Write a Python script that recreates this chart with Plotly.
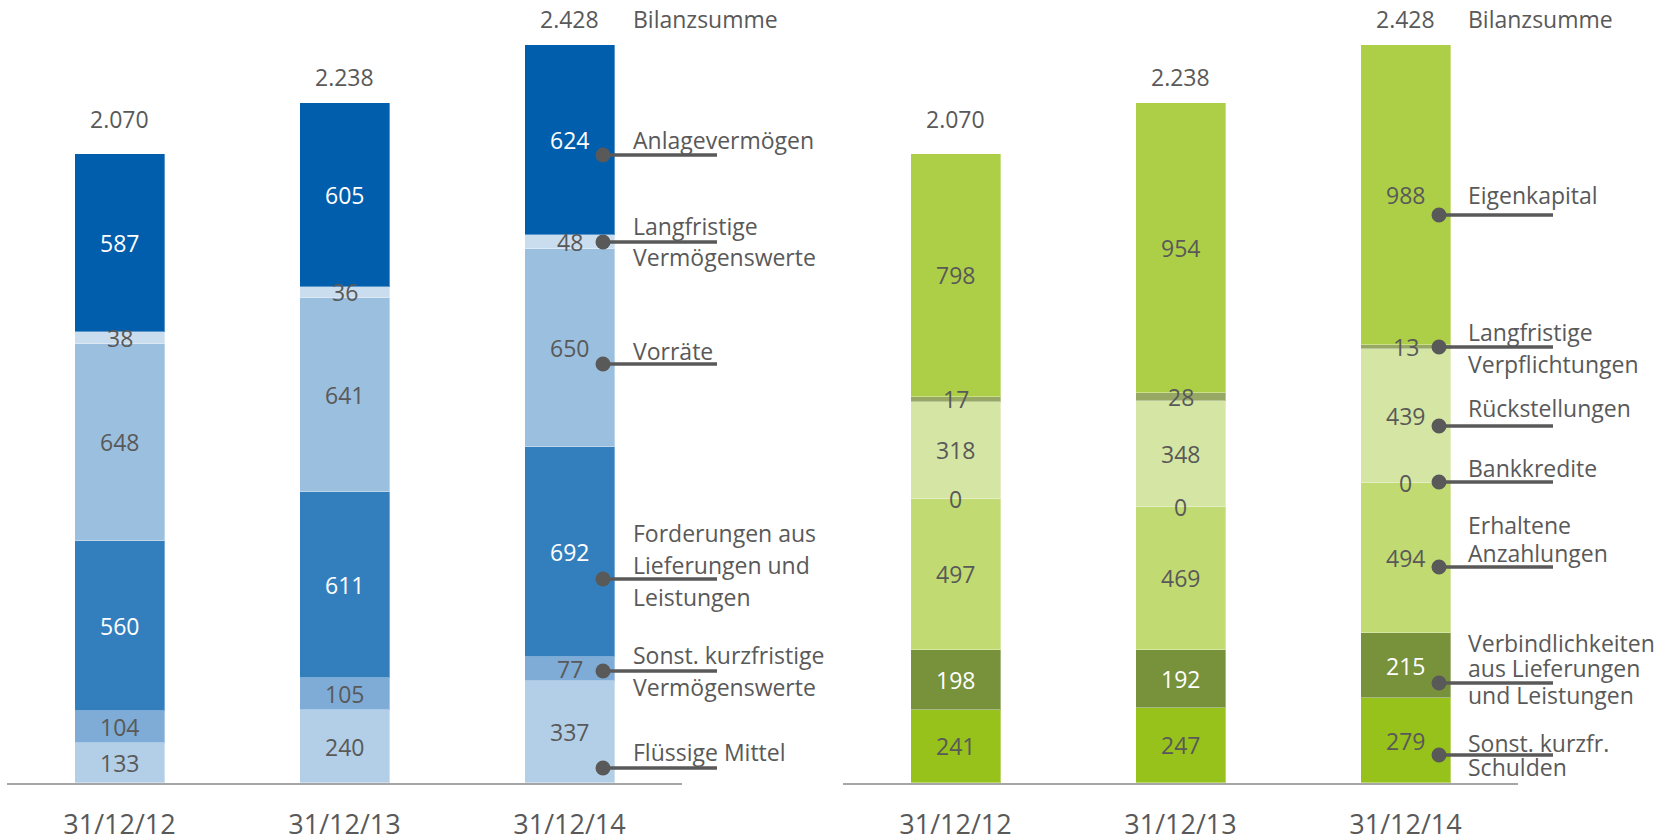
import plotly.graph_objects as go

W, H = 1675, 840

dates = ["31/12/12", "31/12/13", "31/12/14"]

# Aktiva (bottom to top)
fluessige_mittel = [133, 240, 337]
sonst_kurzfr_vw = [104, 105, 77]
forderungen_lul = [560, 611, 692]
vorraete = [648, 641, 650]
langfr_vw = [38, 36, 48]
anlagevermoegen = [587, 605, 624]

# Passiva (bottom to top)
sonst_kurzfr_schulden = [241, 247, 279]
verbindl_lul = [198, 192, 215]
erhaltene_anz = [497, 469, 494]
bankkredite = [0, 0, 0]
rueckstellungen = [318, 348, 439]
langfr_verpfl = [17, 28, 13]
eigenkapital = [798, 954, 988]

bilanzsumme = [2070, 2238, 2428]

GREY = "#595959"
FONT = "Open Sans"

aktiva = [
    (fluessige_mittel, "#B3CFE7", GREY),
    (sonst_kurzfr_vw, "#7EACD6", GREY),
    (forderungen_lul, "#337FBE", "white"),
    (vorraete, "#9BBFDF", GREY),
    (langfr_vw, "#C9DDEE", GREY),
    (anlagevermoegen, "#005EAD", "white"),
]
passiva = [
    (sonst_kurzfr_schulden, "#97C11B", GREY),
    (verbindl_lul, "#78923C", "white"),
    (erhaltene_anz, "#C1DB72", GREY),
    (bankkredite, "#C1DB72", GREY),
    (rueckstellungen, "#D5E6A4", GREY),
    (langfr_verpfl, "#96A864", GREY),
    (eigenkapital, "#ADCF48", GREY),
]

fig = go.Figure()


def add_stack(series, xa):
    cum = [0, 0, 0]
    for vals, col, tcol in series:
        fig.add_trace(go.Bar(
            x=dates, y=vals, xaxis=xa, yaxis="y", width=0.4,
            marker=dict(color=col, line=dict(color="rgba(255,255,255,0.35)", width=1)),
            showlegend=False, hoverinfo="skip"))
        for d, c, v in zip(dates, cum, vals):
            fig.add_annotation(x=d, y=c + v / 2, xref=xa, yref="y",
                               text=str(v), showarrow=False,
                               font=dict(family=FONT, size=23, color=tcol),
                               xanchor="center", yanchor="middle")
        cum = [c + v for c, v in zip(cum, vals)]


add_stack(aktiva, "x")
add_stack(passiva, "x2")

# Bilanzsumme labels above bars
tot_shift = [35, 26, 26]
for xa in ["x", "x2"]:
    for d, t, s in zip(dates, bilanzsumme, tot_shift):
        fig.add_annotation(x=d, y=t, xref=xa, yref="y", yshift=s,
                           text=f"{t:,}".replace(",", "."), showarrow=False,
                           font=dict(family=FONT, size=23, color=GREY),
                           xanchor="center", yanchor="middle")

base = 783          # pixel row of the baseline
MB = H - base       # bottom margin holds the date labels
PH = H - MB         # plot-area height in pixels


def px(x):
    return x / W


def py(y):
    return 1 - y / PH


# Series labels: (text lines with y pixel), dot y pixel
left_labels = [
    ([("Bilanzsumme", 19)], None),
    ([("Anlagevermögen", 140)], 155),
    ([("Langfristige", 226), ("Vermögenswerte", 257)], 242),
    ([("Vorräte", 351)], 364),
    ([("Forderungen aus", 533), ("Lieferungen und", 565), ("Leistungen", 597)], 579),
    ([("Sonst. kurzfristige", 655), ("Vermögenswerte", 687)], 671),
    ([("Flüssige Mittel", 752)], 768),
]
right_labels = [
    ([("Bilanzsumme", 19)], None),
    ([("Eigenkapital", 195)], 215),
    ([("Langfristige", 332), ("Verpflichtungen", 364)], 347),
    ([("Rückstellungen", 408)], 426),
    ([("Bankkredite", 468)], 482),
    ([("Erhaltene", 525), ("Anzahlungen", 553)], 567),
    ([("Verbindlichkeiten", 643), ("aus Lieferungen", 668), ("und Leistungen", 695)], 683),
    ([("Sonst. kurzfr.", 743), ("Schulden", 767)], 755),
]

shapes = []


def add_labels(labels, tx, dx, lx):
    for lines, dy in labels:
        for txt, y in lines:
            fig.add_annotation(x=px(tx), y=py(y), xref="paper", yref="paper",
                               text=txt, showarrow=False, xanchor="left", yanchor="middle",
                               font=dict(family=FONT, size=23, color=GREY))
        if dy is not None:
            shapes.append(dict(type="line", xref="paper", yref="paper",
                               x0=px(dx), x1=px(lx), y0=py(dy), y1=py(dy),
                               line=dict(color=GREY, width=3.5)))
            r = 7.5
            shapes.append(dict(type="circle", xref="paper", yref="paper",
                               x0=px(dx - r), x1=px(dx + r), y0=py(dy + r), y1=py(dy - r),
                               fillcolor=GREY, line=dict(width=0)))


add_labels(left_labels, 631, 603, 717)
add_labels(right_labels, 1466, 1439, 1553)

scale = 738 / 2428
ymax = base / scale

xcommon = dict(type="category", range=[-0.5, 2.5], showline=True, linecolor="#A6A6A6",
               linewidth=2, showgrid=False, zeroline=False, ticks="",
               tickfont=dict(family=FONT, size=27, color=GREY), ticklabelstandoff=17,
               anchor="y", automargin=False)

fig.update_layout(
    width=W, height=H, margin=dict(l=0, r=0, t=0, b=MB, autoexpand=False),
    paper_bgcolor="white", plot_bgcolor="white",
    barmode="stack", bargap=0,
    xaxis=dict(domain=[px(7), px(682)], **xcommon),
    xaxis2=dict(domain=[px(843), px(1518)], **xcommon),
    yaxis=dict(domain=[0, 1], range=[0, ymax], visible=False, showgrid=False,
               automargin=False),
    shapes=shapes,
)

fig.write_html("out.html", config={"displayModeBar": False},
               post_script="document.body.style.margin='0';document.body.style.overflow='hidden';")
